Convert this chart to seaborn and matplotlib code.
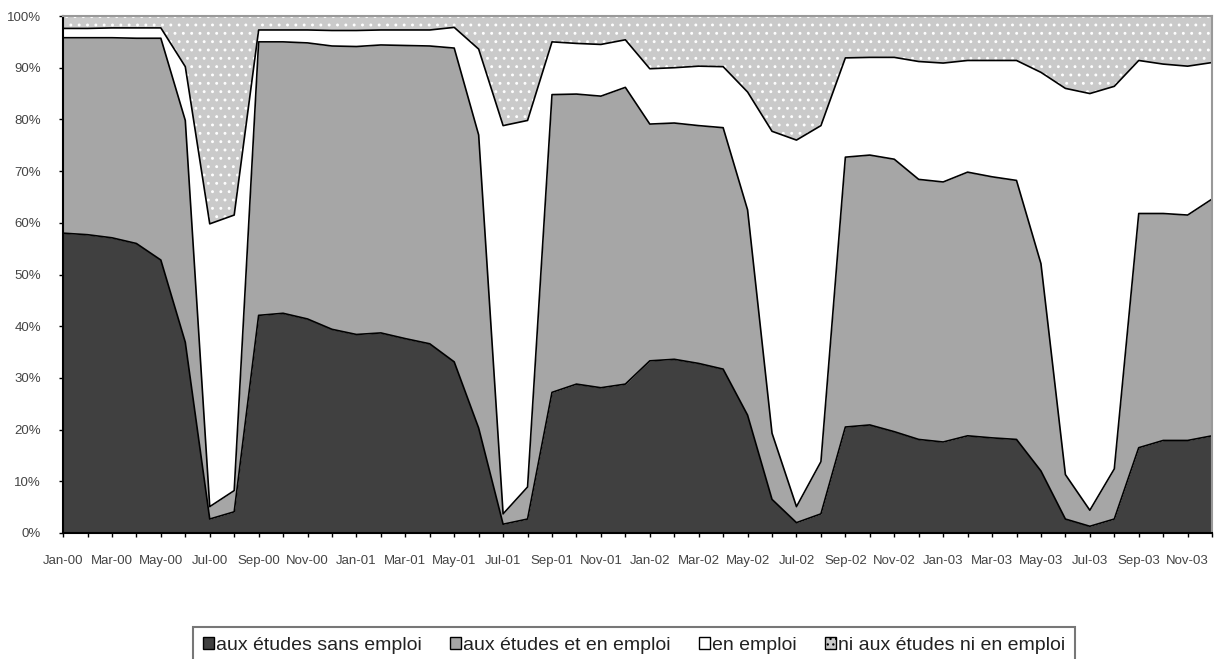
import numpy as np
import pandas as pd
import seaborn as sns
import matplotlib.pyplot as plt
from matplotlib.patches import Patch

# -----------------------------
# Data (shares in %, monthly Jan-00 .. Dec-03)
# -----------------------------
months = pd.date_range("2000-01-01", "2003-12-01", freq="MS")
month_labels = [d.strftime("%b-%y") for d in months]

sans_emploi = [58.0, 57.7, 57.1, 56.0, 52.8, 36.9, 2.7, 4.1, 42.1, 42.5, 41.4, 39.4,
               38.4, 38.7, 37.6, 36.6, 33.1, 20.3, 1.7, 2.7, 27.2, 28.8, 28.1, 28.8,
               33.3, 33.6, 32.8, 31.7, 22.8, 6.5, 2.0, 3.7, 20.5, 20.9, 19.6, 18.1,
               17.6, 18.8, 18.4, 18.1, 12.0, 2.7, 1.3, 2.7, 16.5, 17.9, 17.9, 18.8]
etudes_et_emploi = [37.8, 38.1, 38.7, 39.7, 42.9, 42.9, 2.4, 4.1, 52.9, 52.5, 53.4, 54.8,
                    55.7, 55.7, 56.7, 57.6, 60.7, 56.7, 2.0, 6.2, 57.6, 56.1, 56.4, 57.4,
                    45.8, 45.7, 46.0, 46.7, 39.7, 12.8, 3.1, 10.1, 52.2, 52.2, 52.7, 50.3,
                    50.3, 51.0, 50.5, 50.1, 40.1, 8.6, 3.1, 9.7, 45.3, 43.9, 43.6, 45.8]
en_emploi = [1.8, 1.8, 1.9, 2.0, 2.0, 10.4, 54.7, 53.3, 2.3, 2.3, 2.5, 3.0,
             3.1, 2.9, 3.0, 3.1, 4.0, 16.6, 75.1, 70.9, 10.2, 9.8, 10.0, 9.2,
             10.7, 10.7, 11.5, 11.8, 22.8, 58.4, 70.9, 65.0, 19.2, 18.9, 19.7, 22.8,
             23.0, 21.6, 22.5, 23.2, 37.0, 74.7, 80.6, 74.0, 29.6, 28.9, 28.8, 26.4]
ni_ni = [2.4, 2.4, 2.3, 2.3, 2.3, 9.8, 40.2, 38.5, 2.7, 2.7, 2.7, 2.8,
         2.8, 2.7, 2.7, 2.7, 2.2, 6.4, 21.2, 20.2, 5.0, 5.3, 5.5, 4.6,
         10.2, 10.0, 9.7, 9.8, 14.7, 22.3, 24.0, 21.2, 8.1, 8.0, 8.0, 8.8,
         9.1, 8.6, 8.6, 8.6, 10.9, 14.0, 15.0, 13.6, 8.6, 9.3, 9.7, 9.0]

series_names = ["aux études sans emploi", "aux études et en emploi",
                "en emploi", "ni aux études ni en emploi"]
series_colors = ["#404040", "#a6a6a6", "#ffffff", "#cacaca"]

# -----------------------------
# Plot
# -----------------------------
sns.set_style("white")
plt.rcParams['font.family'] = ['Liberation Sans', 'DejaVu Sans']
plt.rcParams['hatch.linewidth'] = 0.9

fig = plt.figure(figsize=(12.15, 6.59), dpi=100)
ax = fig.add_axes([0.0519, 0.1912, 0.9457, 0.7845])

x = np.arange(len(months))
stack = np.cumsum(np.array([sans_emploi, etudes_et_emploi, en_emploi, ni_ni]), axis=0)
stack[-1] = 100.0
lower = np.zeros(len(x))
for i, (name, col) in enumerate(zip(series_names, series_colors)):
    upper = stack[i]
    if i == 3:
        ax.fill_between(x, lower, upper, facecolor=col, edgecolor="white",
                        hatch="..", linewidth=0)
    else:
        ax.fill_between(x, lower, upper, facecolor=col, linewidth=0)
    lower = upper

# black boundary lines between layers
for i in range(3):
    sns.lineplot(x=x, y=stack[i], ax=ax, color="black", linewidth=1.2)

ax.set_xlim(0, len(x) - 1)
ax.set_ylim(0, 100)
ax.set_yticks(np.arange(0, 101, 10))
ax.set_yticklabels([f"{v}%" for v in range(0, 101, 10)])
ax.set_xticks(x)
ax.set_xticklabels([lab if k % 2 == 0 else "" for k, lab in enumerate(month_labels)])
ax.tick_params(axis="x", length=3, width=1, pad=13, labelsize=9.5, colors="black",
               labelcolor="#444444", direction="out", bottom=True)
ax.tick_params(axis="y", length=3, width=1, pad=13, labelsize=9.5, colors="black",
               labelcolor="#444444", direction="out", left=True)
ax.set_xlabel("")
ax.set_ylabel("")

for side in ["left", "bottom"]:
    ax.spines[side].set_color("black")
    ax.spines[side].set_linewidth(1.5)
for side in ["top", "right"]:
    ax.spines[side].set_color("#999999")
    ax.spines[side].set_linewidth(1.5)

handles = [Patch(facecolor=c, edgecolor="black", hatch=("..." if k == 3 else None))
           for k, c in enumerate(series_colors)]
leg = fig.legend(handles, series_names, loc="upper center", ncol=4,
                 bbox_to_anchor=(0.5218, 0.063), frameon=True, fancybox=False,
                 edgecolor="#555555", fontsize=14, handlelength=0.55, handleheight=0.55,
                 handletextpad=0.12, columnspacing=1.45, borderpad=0.5)
leg.get_frame().set_linewidth(1.5)
for t in leg.get_texts():
    t.set_color("#222222")

fig.savefig("out.png", dpi=100)
